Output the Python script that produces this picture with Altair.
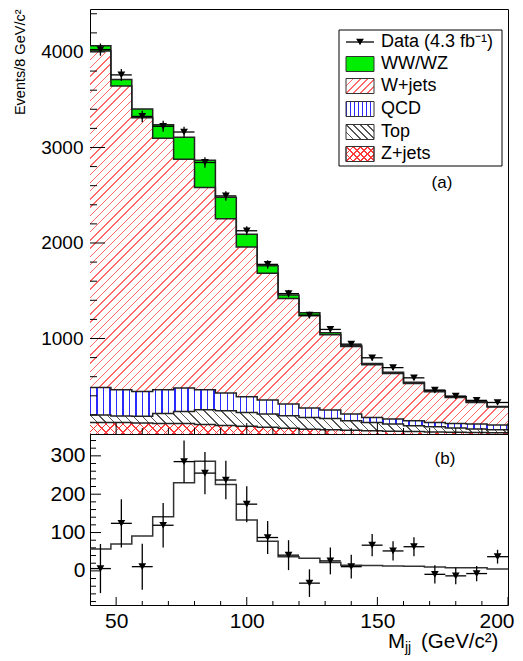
import math
import altair as alt
import pandas as pd

# ---------------- data ----------------
edges = [40, 48, 56, 64, 72, 80, 88, 96, 104, 112, 120, 128, 136, 144, 152, 160, 168, 176, 184, 192, 200]
centers = [44, 52, 60, 68, 76, 84, 92, 100, 108, 116, 124, 132, 140, 148, 156, 164, 172, 180, 188, 196]

zjets = [120, 120, 115, 110, 110, 100, 90, 80, 70, 60, 50, 45, 40, 35, 30, 25, 20, 18, 15, 12]
top = [79, 68, 70, 105, 126, 154, 154, 146, 139, 131, 124, 118, 99, 86, 75, 62, 56, 45, 37, 33]
qcd = [288, 275, 261, 248, 245, 209, 185, 164, 147, 123, 98, 88, 70, 53, 52, 52, 45, 48, 53, 49]
wjets = [3522, 3180, 2866, 2633, 2396, 2117, 1826, 1569, 1328, 1105, 965, 788, 706, 551, 477, 391, 322, 271, 225, 190]
wwwz = [57, 70, 91, 141, 230, 286, 225, 133, 77, 37, 33, 22, 15, 14, 13, 12, 10, 8, 8, 5]

data_counts = [4025, 3760, 3325, 3222, 3162, 2843, 2493, 2128, 1776, 1470, 1245, 1095, 941, 798, 695, 588, 460, 397, 352, 330]
data_err = [64, 63, 60, 58, 55, 55, 50, 47, 43, 39, 36, 35, 31, 29, 25, 25, 24, 22, 20, 18]
resid = [6, 124, 11, 119, 285, 255, 237, 174, 87, 41, -32, 26, 11, 67, 52, 63, -9, -13, -7, 37]

legend_labels = ["Data (4.3 fb\u207b\u00b9)", "WW/WZ", "W+jets", "QCD", "Top", "Z+jets"]

y_major_u = [1000, 2000, 3000, 4000]
y_minor_u = [v for v in range(200, 4450, 200) if v % 1000 != 0]
x_major = [50, 100, 150, 200]
x_minor = [v for v in range(50, 200, 10) if v % 50 != 0]
y_major_l = [0, 100, 200, 300]
y_minor_l = [v for v in range(-80, 357, 20) if v % 100 != 0]

# ---------------- layout constants ----------------
FONT = "Liberation Sans"
W = 418
HU = 425
HL = 171
YU_DOM = [0, 4450]
YL_DOM = [-89, 357]
ky = HU / (YU_DOM[1] - YU_DOM[0])


def hatch(kind, bw, bh, period, lw, color, bg="#ffffff"):
    if kind == "|":
        n = (1.0, 0.0)
    elif kind == "/":
        n = (1 / math.sqrt(2), 1 / math.sqrt(2))
    else:
        n = (1 / math.sqrt(2), -1 / math.sqrt(2))
    gx, gy = n[0] * bw, n[1] * bh
    corners = [(0, 0), (1, 0), (0, 1), (1, 1)]
    s = [gx * u + gy * v for u, v in corners]
    smin, smax = min(s), max(s)
    p1 = corners[s.index(smin)]
    g2 = gx * gx + gy * gy
    k = (smax - smin) / g2
    p2 = (p1[0] + gx * k, p1[1] + gy * k)
    N = (smax - smin) / period
    f = lw / period
    stops = []
    i = 0
    while i < N:
        a = min(i / N, 1.0)
        b = min((i + f) / N, 1.0)
        c = min((i + 1) / N, 1.0)
        stops += [(a, color), (b, color), (b, bg), (c, bg)]
        i += 1
    return {
        "gradient": "linear",
        "x1": round(p1[0], 5), "y1": round(p1[1], 5),
        "x2": round(p2[0], 5), "y2": round(p2[1], 5),
        "stops": [{"offset": round(o, 5), "color": col} for o, col in stops],
    }


RED_W = "#ff6a6a"
BLUE = "#2a2aff"
GRAY = "#555555"
RED_Z = "#ff3a3a"
GREEN = "#00ee00"
CLEAR = "rgba(255,255,255,0)"

xS = alt.Scale(domain=[40, 200], nice=False, zero=False)
yU = alt.Scale(domain=YU_DOM, nice=False, zero=False)
yL = alt.Scale(domain=YL_DOM, nice=False, zero=False)

yaxis_u = alt.Axis(values=y_major_u, format="d", ticks=False, domain=False, grid=False,
                   labelFontSize=19, labelPadding=7, labelFont=FONT, labelColor="black",
                   title="Events/8 GeV/c\u00b2", titleFont=FONT, titleFontSize=14.5,
                   titleFontWeight="normal", titleColor="black",
                   titleX=-77, titleY=0, titleAlign="right", titleBaseline="top", titleAngle=270)
xaxis_l = alt.Axis(values=x_major, format="d", ticks=False, domain=False, grid=False, labelFontSize=21,
                   labelPadding=5, labelFont=FONT, labelColor="black", labelFlush=True,
                   labelFlushOffset=6, labelOverlap=False, title=None)
yaxis_l = alt.Axis(values=y_major_l, format="d", ticks=False, domain=False, grid=False, labelFontSize=21,
                   labelPadding=5, labelFont=FONT, labelColor="black", labelOverlap=False, title=None)

# ---------------- stacked components ----------------
components = [("Z+jets", zjets), ("Top", top), ("QCD", qcd), ("W+jets", wjets), ("WW/WZ", wwwz)]
rows = []
cum = [0] * 20
for name, vals in components:
    new = [c + v for c, v in zip(cum, vals)]
    for i in range(21):
        j = min(i, 19)
        rows.append({"comp": name, "x": edges[i], "lo": cum[j], "hi": new[j]})
    cum = new
stack_df = pd.DataFrame(rows)

one = pd.DataFrame({"k": [0]})

upper_layers = []
for name, vals in components:
    d = stack_df[stack_df.comp == name]
    H = (d.hi.max() - d.lo.min()) * ky
    if name == "WW/WZ":
        fills = [GREEN]
    elif name == "W+jets":
        fills = [hatch("/", W, H, 5.8, 1.0, RED_W)]
    elif name == "QCD":
        fills = [hatch("|", W, H, 6.5, 1.4, BLUE)]
    elif name == "Top":
        fills = [hatch("\\", W, H, 6.0, 1.0, GRAY)]
    else:
        fills = [hatch("/", W, H, 6.0, 1.0, RED_Z), hatch("\\", W, H, 6.0, 1.0, RED_Z, CLEAR)]
    for fl in fills:
        upper_layers.append(
            alt.Chart(d).mark_area(interpolate="step-after", fill=fl).encode(
                x=alt.X("x:Q", scale=xS, axis=None),
                y=alt.Y("hi:Q", scale=yU, axis=yaxis_u),
                y2="lo:Q",
            )
        )

outline = alt.Chart(stack_df).mark_line(interpolate="step-after", color="#222222", strokeWidth=1.5).encode(
    x=alt.X("x:Q", scale=xS, axis=None),
    y=alt.Y("hi:Q", scale=yU, axis=yaxis_u),
    detail="comp:N",
)
upper_layers.append(outline)


def yticks(vals, scale, axis, length):
    return alt.Chart(pd.DataFrame({"v": vals})).mark_rule(color="black", strokeWidth=1).encode(
        y=alt.Y("v:Q", scale=scale, axis=axis), x=alt.value(0), x2=alt.value(length))


def xticks(vals, axis, h, length):
    return alt.Chart(pd.DataFrame({"v": vals})).mark_rule(color="black", strokeWidth=1).encode(
        x=alt.X("v:Q", scale=xS, axis=axis), y=alt.value(h), y2=alt.value(h - length))


upper_layers += [yticks(y_major_u, yU, yaxis_u, 15), yticks(y_minor_u, yU, yaxis_u, 7),
                 xticks(x_major, None, HU, 11), xticks(x_minor, None, HU, 6)]

data_df = pd.DataFrame({"c": centers, "l": edges[:-1], "r": edges[1:], "v": data_counts, "e": data_err})


def data_layers(df, scale, xaxis, yaxis):
    base = alt.Chart(df).transform_calculate(lo="datum.v - datum.e", hi="datum.v + datum.e")
    ev = base.mark_rule(color="black", strokeWidth=1.3).encode(
        x=alt.X("c:Q", scale=xS, axis=xaxis), y=alt.Y("lo:Q", scale=scale, axis=yaxis), y2="hi:Q")
    eh = base.mark_rule(color="black", strokeWidth=1.3).encode(
        x=alt.X("l:Q", scale=xS, axis=xaxis), x2="r:Q", y=alt.Y("v:Q", scale=scale, axis=yaxis))
    tri = base.mark_point(shape="triangle-down", filled=True, size=60, color="black", opacity=1).encode(
        x=alt.X("c:Q", scale=xS, axis=xaxis), y=alt.Y("v:Q", scale=scale, axis=yaxis))
    return [ev, eh, tri]


upper_layers += data_layers(data_df, yU, None, yaxis_u)

# ---------------- legend ----------------
leg_y = [33, 55, 77, 100, 123, 145]
upper_layers.append(alt.Chart(one).mark_rect(fill="white", stroke="black", strokeWidth=1).encode(
    x=alt.value(249), x2=alt.value(412), y=alt.value(21), y2=alt.value(157)))
upper_layers.append(alt.Chart(one).mark_rule(color="black", strokeWidth=1.3).encode(
    x=alt.value(256), x2=alt.value(284), y=alt.value(leg_y[0])))
upper_layers.append(alt.Chart(one).mark_point(shape="triangle-down", filled=True, size=60, color="black", opacity=1).encode(
    x=alt.value(270), y=alt.value(leg_y[0])))
sw = {
    "WW/WZ": [GREEN],
    "W+jets": [hatch("/", 28, 15, 5.0, 1.0, RED_W)],
    "QCD": [hatch("|", 28, 15, 4.0, 1.3, BLUE)],
    "Top": [hatch("\\", 28, 15, 5.0, 1.0, GRAY)],
    "Z+jets": [hatch("/", 28, 15, 5.0, 1.0, RED_Z), hatch("\\", 28, 15, 5.0, 1.0, RED_Z, CLEAR)],
}
for idx, name in enumerate(legend_labels[1:], start=1):
    yc = leg_y[idx]
    for fl in sw[name]:
        upper_layers.append(alt.Chart(one).mark_rect(fill=fl, stroke="#333333", strokeWidth=1).encode(
            x=alt.value(256), x2=alt.value(284), y=alt.value(yc - 7.5), y2=alt.value(yc + 7.5)))
for idx, lab in enumerate(legend_labels):
    upper_layers.append(alt.Chart(one).mark_text(text=lab, font=FONT, fontSize=18, align="left",
                                                 baseline="middle", color="black").encode(
        x=alt.value(291), y=alt.value(leg_y[idx])))
upper_layers.append(alt.Chart(one).mark_text(text="(a)", font=FONT, fontSize=17, align="center",
                                             baseline="middle", color="black").encode(
    x=alt.value(352), y=alt.value(174)))

upper = alt.layer(*upper_layers).properties(width=W, height=HU)

# ---------------- lower panel ----------------
ww_df = pd.DataFrame({"x": edges, "y": wwwz + [wwwz[-1]]})
lower_layers = [
    alt.Chart(ww_df).mark_line(interpolate="step-after", color="#333333", strokeWidth=1.5).encode(
        x=alt.X("x:Q", scale=xS, axis=xaxis_l), y=alt.Y("y:Q", scale=yL, axis=yaxis_l)),
    yticks(y_major_l, yL, yaxis_l, 11), yticks(y_minor_l, yL, yaxis_l, 6),
    xticks(x_major, xaxis_l, HL, 8), xticks(x_minor, xaxis_l, HL, 4),
]
res_df = pd.DataFrame({"c": centers, "l": edges[:-1], "r": edges[1:], "v": resid, "e": data_err})
lower_layers += data_layers(res_df, yL, xaxis_l, yaxis_l)
lower_layers.append(alt.Chart(one).mark_text(text="(b)", font=FONT, fontSize=17, align="center",
                                             baseline="middle", color="black").encode(
    x=alt.value(355), y=alt.value(25)))
lower_layers.append(alt.Chart(one).mark_text(text="M", font=FONT, fontSize=20.5, align="left",
                                             baseline="alphabetic", color="black").encode(
    x=alt.value(298), y=alt.value(214)))
lower_layers.append(alt.Chart(one).mark_text(text="jj", font=FONT, fontSize=14, align="left",
                                             baseline="alphabetic", color="black").encode(
    x=alt.value(315), y=alt.value(218)))
lower_layers.append(alt.Chart(one).mark_text(text="(GeV/c\u00b2)", font=FONT, fontSize=20.5, align="left",
                                             baseline="alphabetic", color="black").encode(
    x=alt.value(331), y=alt.value(214)))

lower = alt.layer(*lower_layers).properties(width=W, height=HL)

chart = alt.vconcat(upper, lower, spacing=0, bounds="flush").properties(
    padding={"left": 3, "top": 0, "right": 0, "bottom": 0}
).configure_view(stroke="black", strokeWidth=1).configure_axis(grid=False)

chart.save("out.html", embed_options={"renderer": "svg", "actions": False})
